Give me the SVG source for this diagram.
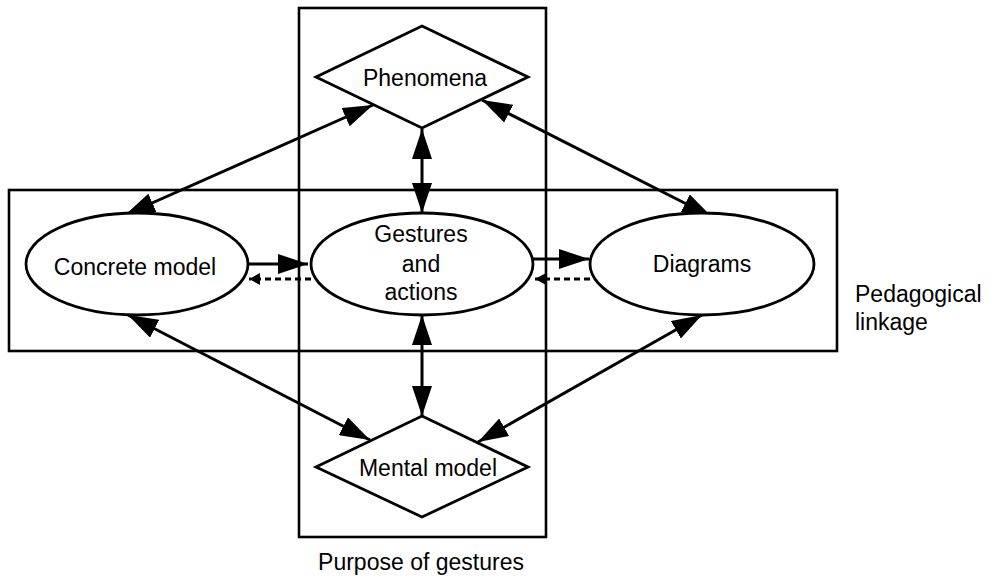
<svg xmlns="http://www.w3.org/2000/svg" width="991" height="578" viewBox="0 0 991 578">
<style>
.frame{fill:none;stroke:#000;stroke-width:2.6}
.shape{fill:#fff;stroke:#000;stroke-width:2.8}
.lbl{font-family:"Liberation Sans",Arial,sans-serif;font-size:23px;fill:#000}
.c{text-anchor:middle}
.ln{stroke:#000;stroke-width:3;fill:none}
.dash{stroke:#000;stroke-width:3;fill:none;stroke-dasharray:6 4}
</style>
<defs>
<marker id="ah" markerUnits="userSpaceOnUse" markerWidth="30" markerHeight="20" refX="30" refY="10" orient="auto-start-reverse" viewBox="0 0 30 20">
<path d="M0,0 L30,10 L0,20 z" fill="#000"/>
</marker>
<marker id="sh" markerUnits="userSpaceOnUse" markerWidth="11" markerHeight="12" refX="11" refY="6" orient="auto" viewBox="0 0 11 12">
<path d="M0,0 L11,6 L0,12 z" fill="#000"/>
</marker>
</defs>
<rect class="frame" x="299" y="8" width="247" height="529"/>
<rect class="frame" x="9" y="190" width="828" height="161"/>
<g id="connectors">
<line class="ln" x1="125" y1="215" x2="373" y2="105" marker-start="url(#ah)" marker-end="url(#ah)"/>
<line class="ln" x1="482" y1="100" x2="712" y2="217" marker-start="url(#ah)" marker-end="url(#ah)"/>
<line class="ln" x1="128" y1="315" x2="370" y2="440" marker-start="url(#ah)" marker-end="url(#ah)"/>
<line class="ln" x1="702" y1="315" x2="478" y2="442" marker-start="url(#ah)" marker-end="url(#ah)"/>
<line class="ln" x1="422" y1="129" x2="422" y2="213" marker-start="url(#ah)" marker-end="url(#ah)"/>
<line class="ln" x1="422" y1="315" x2="422" y2="416" marker-start="url(#ah)" marker-end="url(#ah)"/>
<line class="ln" x1="248" y1="264" x2="308" y2="264" marker-end="url(#ah)"/>
<line class="dash" x1="311" y1="279" x2="249" y2="279" marker-end="url(#sh)"/>
<line class="ln" x1="533" y1="259" x2="589" y2="259" marker-end="url(#ah)"/>
<line class="dash" x1="600" y1="279" x2="535" y2="279" marker-end="url(#sh)"/>
</g>
<g id="phenomena">
<polygon class="shape" points="422,26 528,77 422,128 316,77"/>
<text class="lbl c" x="425" y="86">Phenomena</text>
</g>
<g id="concrete-model">
<ellipse class="shape" cx="137" cy="264" rx="111" ry="51"/>
<text class="lbl c" x="135" y="275">Concrete model</text>
</g>
<g id="gestures-actions">
<ellipse class="shape" cx="422" cy="264" rx="111" ry="51"/>
<text class="lbl c" x="421" y="242">Gestures</text>
<text class="lbl c" x="421" y="272">and</text>
<text class="lbl c" x="421" y="300">actions</text>
</g>
<g id="diagrams">
<ellipse class="shape" cx="702" cy="264" rx="112" ry="51"/>
<text class="lbl c" x="702" y="272">Diagrams</text>
</g>
<g id="mental-model">
<polygon class="shape" points="422,416 528,467 422,517 316,467"/>
<text class="lbl c" x="428" y="476">Mental model</text>
</g>
<g id="labels">
<text class="lbl c" x="421" y="570">Purpose of gestures</text>
<text class="lbl" x="855" y="302">Pedagogical</text>
<text class="lbl" x="855" y="330">linkage</text>
</g>
</svg>
